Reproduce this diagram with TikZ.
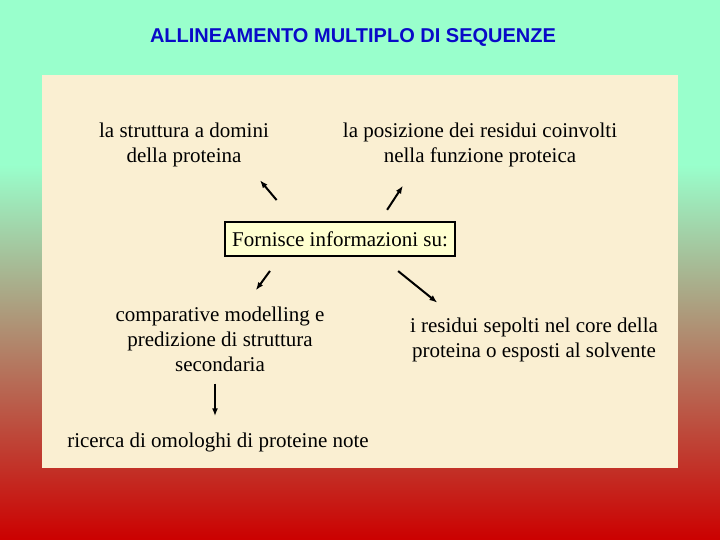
\documentclass[tikz,border=0pt]{standalone}
\usepackage{fontspec}
\setmainfont{Liberation Serif}
\newfontfamily\titlefont{Liberation Sans}
\usetikzlibrary{arrows.meta}

\definecolor{mint}{RGB}{153,255,204}
\definecolor{deepred}{RGB}{204,0,0}
\definecolor{parchment}{RGB}{250,239,210}
\definecolor{boxfill}{RGB}{255,255,208}
\definecolor{titleblue}{RGB}{10,10,200}

\begin{document}
\begin{tikzpicture}[x=1pt,y=-1pt]
  \tikzstyle{every node}=[font=\fontsize{21}{25}\selectfont, align=center, inner sep=0pt]
  \tikzstyle{arr}=[-{Latex[length=8pt,width=6pt]}, line width=2pt]

  \useasboundingbox (0,0) rectangle (720,540);
  \fill[mint] (0,0) rectangle (720,165);
  \shade[top color=mint, bottom color=deepred] (0,165) rectangle (720,540);
  \fill[parchment] (42,75) rectangle (678,468);

  \node[font=\titlefont\bfseries\fontsize{20}{24}\selectfont, text=titleblue] (title) at (353,37) {ALLINEAMENTO MULTIPLO DI SEQUENZE};

  \node[draw, line width=2.5pt, fill=boxfill, minimum width=230pt, minimum height=34pt] (info) at (340,239) {Fornisce informazioni su:};

  \node (dom) at (184,145) {la struttura a domini\\della proteina};
  \node (pos) at (480,145) {la posizione dei residui coinvolti\\nella funzione proteica};
  \node (comp) at (220,339) {comparative modelling e\\predizione di struttura\\secondaria};
  \node (res) at (534,340) {i residui sepolti nel core della\\proteina o esposti al solvente};
  \node (ric) at (218,442) {ricerca di omologhi di proteine note};

  \draw[arr, shorten <=27pt, shorten >=17pt] ([xshift=-46pt]info.north) -- ([xshift=65pt]dom.south);
  \draw[arr, shorten <=13pt, shorten >=22pt] ([xshift=40pt]info.north) -- ([xshift=-65pt]pos.south);
  \draw[arr, shorten <=17pt, shorten >=20pt] ([xshift=-60pt]info.south) -- ([xshift=24pt]comp.north);
  \draw[arr, shorten <=22pt, shorten >=24pt] ([xshift=41pt]info.south) -- ([xshift=-78pt]res.north);
  \draw[arr, shorten <=12pt, shorten >=16pt] ([xshift=-5pt]comp.south) -- ([xshift=-3pt]ric.north);

\end{tikzpicture}
\end{document}
